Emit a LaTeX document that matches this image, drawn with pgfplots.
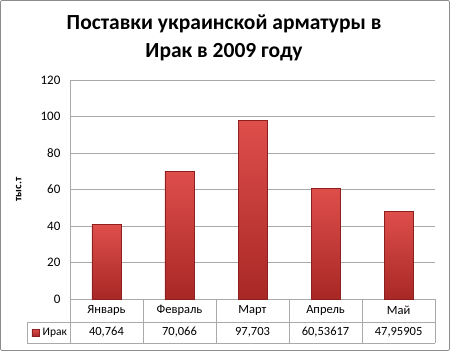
\documentclass[border=0pt]{standalone}
\usepackage{pgfplots}
\pgfplotsset{compat=1.18}
\usepackage{fontspec}
\setmainfont{Carlito}
\definecolor{gridc}{RGB}{170,170,170}
\definecolor{framec}{RGB}{140,140,140}
\definecolor{baredge}{RGB}{140,32,30}
\definecolor{bartop}{RGB}{222,78,75}
\definecolor{barbot}{RGB}{168,40,38}
\tikzset{mybar/.style={ybar, bar width=29pt, bar shift=0pt, draw=baredge, line width=0.6pt,
    top color=bartop, bottom color=barbot}}
\begin{document}
\begin{tikzpicture}[x=1pt,y=1pt]
\draw[framec, line width=0.8pt, rounded corners=2pt] (0.5,0.5) rectangle (449.5,350.5);
\node[font=\bfseries\fontsize{21.5}{28}\selectfont, align=center, anchor=center] at (224,313) {Поставки украинской арматуры в\\Ирак в 2009 году};
\begin{axis}[
  at={(70pt,52pt)}, anchor=south west,
  scale only axis, width=365pt, height=219pt,
  xmin=-0.5, xmax=4.5, ymin=0, ymax=120,
  ytick={0,20,...,120}, xtick=\empty,
  ymajorgrids, grid style={gridc, line width=0.8pt},
  axis x line*=bottom, axis y line*=left,
  axis line style={gridc, line width=0.8pt, -},
  major tick length=0pt,
  tick label style={font=\fontsize{13}{15}\selectfont},
  yticklabel style={anchor=east, xshift=-6pt},
  /pgf/number format/assume math mode=true,
  ylabel={тыс.т}, ylabel style={font=\bfseries\fontsize{11}{13}\selectfont, at={(axis description cs:-0.123,0.5)}},
  clip=false,
]
\addplot[mybar] coordinates {(0,40.764)};
\addplot[mybar] coordinates {(1,70.066)};
\addplot[mybar] coordinates {(2,97.703)};
\addplot[mybar] coordinates {(3,60.53617)};
\addplot[mybar] coordinates {(4,47.95905)};
\end{axis}
% data table
\begin{scope}[gridc, line width=0.8pt]
\draw (27,29) -- (435,29);
\draw (27,8) -- (435,8);
\draw (27,8) -- (27,29);
\foreach \x in {70,143,216,289,362,435} \draw (\x,8) -- (\x,52);
\end{scope}
\begin{scope}[font=\fontsize{12.5}{14}\selectfont]
\node at (106.5,40.5) {Январь};
\node at (179.5,40.5) {Февраль};
\node at (252.5,40.5) {Март};
\node at (325.5,40.5) {Апрель};
\node at (398.5,40.5) {Май};
\node at (106.5,18.5) {40,764};
\node at (179.5,18.5) {70,066};
\node at (252.5,18.5) {97,703};
\node at (325.5,18.5) {60,53617};
\node at (398.5,18.5) {47,95905};
\end{scope}
\node[anchor=west, inner sep=0pt, font=\fontsize{11.5}{13}\selectfont] at (42.5,18.5) {Ирак};
\draw[baredge, line width=0.4pt, top color=bartop, bottom color=barbot] (32,15) rectangle (39,22);
\end{tikzpicture}
\end{document}
